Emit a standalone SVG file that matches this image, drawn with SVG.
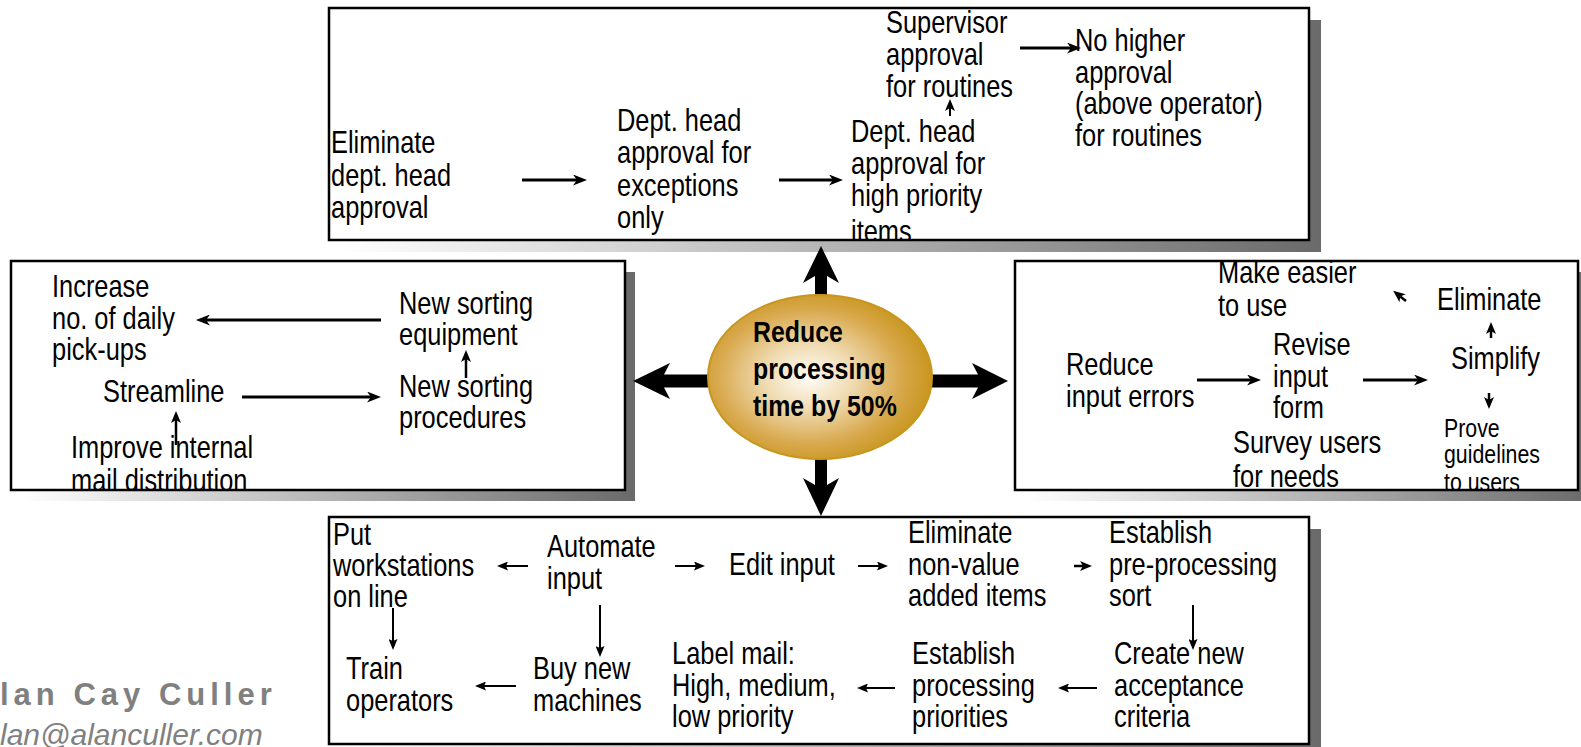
<svg xmlns="http://www.w3.org/2000/svg" width="1581" height="747" viewBox="0 0 1581 747">
<defs>
<linearGradient id="sh" x1="0" y1="0" x2="1" y2="0">
<stop offset="0" stop-color="#ffffff"/>
<stop offset="1" stop-color="#6a6a6a"/>
</linearGradient>
<radialGradient id="gold" cx="0.45" cy="0.5" r="0.55">
<stop offset="0" stop-color="#fffdf8"/>
<stop offset="0.35" stop-color="#f0dcb4"/>
<stop offset="0.75" stop-color="#d8a84c"/>
<stop offset="1" stop-color="#c8961e"/>
</radialGradient>
<clipPath id="cTop"><rect x="329" y="8" width="980" height="232"/></clipPath>
<clipPath id="cLeft"><rect x="11" y="261" width="614" height="229"/></clipPath>
<clipPath id="cRight"><rect x="1015" y="261" width="563" height="229"/></clipPath>
<clipPath id="cBot"><rect x="329" y="517" width="980" height="227"/></clipPath>
<marker id="ah" markerUnits="userSpaceOnUse" viewBox="0 0 14 11" refX="4" refY="5.5" markerWidth="14" markerHeight="11" orient="auto">
<path d="M0,0 L14,5.5 L0,11 L4,5.5 z" fill="#000"/>
</marker>
<marker id="ah2" markerUnits="userSpaceOnUse" viewBox="0 0 11 9" refX="2" refY="4.5" markerWidth="11" markerHeight="9" orient="auto">
<path d="M0,0 L11,4.5 L0,9 L2,4.5 z" fill="#000"/>
</marker>
<marker id="ah3" markerUnits="userSpaceOnUse" viewBox="0 0 12 10" refX="3" refY="5" markerWidth="12" markerHeight="10" orient="auto">
<path d="M0,0 L12,5 L0,10 L3,5 z" fill="#000"/>
</marker>
</defs>
<style>
.t{font-family:'Liberation Sans',Arial,sans-serif;font-size:31px;fill:#000}
.s{font-size:26px}
.c{font-weight:bold;font-size:30px}
.shadow{fill:url(#sh)}
.box{fill:#fff}
.border{fill:none;stroke:#000;stroke-width:2.5}
.a3{stroke:#000;stroke-width:3;fill:none;marker-end:url(#ah)}
.a2{stroke:#000;stroke-width:2;fill:none;marker-end:url(#ah2)}
.a4{stroke:#000;stroke-width:2.5;fill:none;marker-end:url(#ah3)}
.big{fill:#000}
.auth{font-family:'Liberation Sans',Arial,sans-serif;fill:#808080}
</style>
<rect width="1581" height="747" fill="#fff"/>

<g id="top-box">
<rect class="shadow" x="341" y="20" width="980" height="232"/>
<rect class="box" x="329" y="8" width="980" height="232"/>
<g clip-path="url(#cTop)">
<text class="t" transform="matrix(0.82 0 0 1 331 0)"><tspan x="0" y="153">Eliminate</tspan><tspan x="0" y="186">dept. head</tspan><tspan x="0" y="218">approval</tspan></text>
<text class="t" transform="matrix(0.82 0 0 1 617 0)"><tspan x="0" y="131">Dept. head</tspan><tspan x="0" y="163">approval for</tspan><tspan x="0" y="196">exceptions</tspan><tspan x="0" y="228">only</tspan></text>
<text class="t" transform="matrix(0.82 0 0 1 851 0)"><tspan x="0" y="142">Dept. head</tspan><tspan x="0" y="174">approval for</tspan><tspan x="0" y="206">high priority</tspan><tspan x="0" y="242">items</tspan></text>
<text class="t" transform="matrix(0.82 0 0 1 886 0)"><tspan x="0" y="33">Supervisor</tspan><tspan x="0" y="65">approval</tspan><tspan x="0" y="97">for routines</tspan></text>
<text class="t" transform="matrix(0.82 0 0 1 1075 0)"><tspan x="0" y="51">No higher</tspan><tspan x="0" y="83">approval</tspan><tspan x="0" y="114">(above operator)</tspan><tspan x="0" y="146">for routines</tspan></text>
</g>
<rect class="border" x="329" y="8" width="980" height="232"/>
</g>

<g id="left-box">
<rect class="shadow" x="21" y="272" width="614" height="229"/>
<rect class="box" x="11" y="261" width="614" height="229"/>
<g clip-path="url(#cLeft)">
<text class="t" transform="matrix(0.82 0 0 1 52 0)"><tspan x="0" y="297">Increase</tspan><tspan x="0" y="329">no. of daily</tspan><tspan x="0" y="360">pick-ups</tspan></text>
<text class="t" transform="matrix(0.82 0 0 1 399 0)"><tspan x="0" y="314">New sorting</tspan><tspan x="0" y="345">equipment</tspan></text>
<text class="t" transform="matrix(0.82 0 0 1 103 0)" x="0" y="402">Streamline</text>
<text class="t" transform="matrix(0.82 0 0 1 399 0)"><tspan x="0" y="397">New sorting</tspan><tspan x="0" y="428">procedures</tspan></text>
<text class="t" transform="matrix(0.82 0 0 1 71 0)"><tspan x="0" y="458">Improve internal</tspan><tspan x="0" y="491">mail distribution</tspan></text>
</g>
<rect class="border" x="11" y="261" width="614" height="229"/>
</g>

<g id="right-box">
<rect class="shadow" x="1026" y="272" width="563" height="229"/>
<rect class="box" x="1015" y="261" width="563" height="229"/>
<g clip-path="url(#cRight)">
<text class="t" transform="matrix(0.82 0 0 1 1218 0)"><tspan x="0" y="283">Make easier</tspan><tspan x="0" y="316">to use</tspan></text>
<text class="t" transform="matrix(0.82 0 0 1 1437 0)" x="0" y="310">Eliminate</text>
<text class="t" transform="matrix(0.82 0 0 1 1451 0)" x="0" y="369">Simplify</text>
<text class="t" transform="matrix(0.82 0 0 1 1066 0)"><tspan x="0" y="375">Reduce</tspan><tspan x="0" y="407">input errors</tspan></text>
<text class="t" transform="matrix(0.82 0 0 1 1273 0)"><tspan x="0" y="355">Revise</tspan><tspan x="0" y="387">input</tspan><tspan x="0" y="418">form</tspan></text>
<text class="t" transform="matrix(0.82 0 0 1 1233 0)"><tspan x="0" y="453">Survey users</tspan><tspan x="0" y="487">for needs</tspan></text>
<text class="t s" transform="matrix(0.82 0 0 1 1444 0)"><tspan x="0" y="437">Prove</tspan><tspan x="0" y="463">guidelines</tspan><tspan x="0" y="491">to users</tspan></text>
</g>
<rect class="border" x="1015" y="261" width="563" height="229"/>
</g>

<g id="bottom-box">
<rect class="shadow" x="341" y="529" width="980" height="227"/>
<rect class="box" x="329" y="517" width="980" height="227"/>
<g clip-path="url(#cBot)">
<text class="t" transform="matrix(0.82 0 0 1 333 0)"><tspan x="0" y="545">Put</tspan><tspan x="0" y="576">workstations</tspan><tspan x="0" y="607">on line</tspan></text>
<text class="t" transform="matrix(0.82 0 0 1 547 0)"><tspan x="0" y="557">Automate</tspan><tspan x="0" y="589">input</tspan></text>
<text class="t" transform="matrix(0.82 0 0 1 729 0)" x="0" y="575">Edit input</text>
<text class="t" transform="matrix(0.82 0 0 1 908 0)"><tspan x="0" y="543">Eliminate</tspan><tspan x="0" y="575">non-value</tspan><tspan x="0" y="606">added items</tspan></text>
<text class="t" transform="matrix(0.82 0 0 1 1109 0)"><tspan x="0" y="543">Establish</tspan><tspan x="0" y="575">pre-processing</tspan><tspan x="0" y="606">sort</tspan></text>
<text class="t" transform="matrix(0.82 0 0 1 346 0)"><tspan x="0" y="679">Train</tspan><tspan x="0" y="711">operators</tspan></text>
<text class="t" transform="matrix(0.82 0 0 1 533 0)"><tspan x="0" y="679">Buy new</tspan><tspan x="0" y="711">machines</tspan></text>
<text class="t" transform="matrix(0.82 0 0 1 672 0)"><tspan x="0" y="664">Label mail:</tspan><tspan x="0" y="696">High, medium,</tspan><tspan x="0" y="727">low priority</tspan></text>
<text class="t" transform="matrix(0.82 0 0 1 912 0)"><tspan x="0" y="664">Establish</tspan><tspan x="0" y="696">processing</tspan><tspan x="0" y="727">priorities</tspan></text>
<text class="t" transform="matrix(0.82 0 0 1 1114 0)"><tspan x="0" y="664">Create new</tspan><tspan x="0" y="696">acceptance</tspan><tspan x="0" y="727">criteria</tspan></text>
</g>
<rect class="border" x="329" y="517" width="980" height="227"/>
</g>

<g id="connectors">
<line class="a3" x1="522" y1="180" x2="577" y2="180"/>
<line class="a3" x1="779" y1="180" x2="833" y2="180"/>
<line class="a3" x1="1020" y1="48" x2="1071" y2="48"/>
<line class="a4" x1="950" y1="116" x2="950" y2="108" style="stroke-width:2"/>
<line class="a3" x1="381" y1="320" x2="206" y2="320"/>
<line class="a3" x1="242" y1="397" x2="371" y2="397"/>
<line class="a4" x1="466" y1="378" x2="466" y2="359"/>
<line class="a4" x1="176" y1="445" x2="176" y2="420"/>
<line class="a3" x1="1197" y1="380" x2="1251" y2="380"/>
<line class="a3" x1="1363" y1="380" x2="1418" y2="380"/>
<line class="a4" x1="1491" y1="338" x2="1491" y2="331"/>
<line class="a4" x1="1489" y1="393" x2="1489" y2="400"/>
<line class="a4" x1="1406" y1="301" x2="1400.2" y2="296.4"/>
<line class="a2" x1="528" y1="566" x2="506" y2="566"/>
<line class="a2" x1="675" y1="566" x2="696" y2="566"/>
<line class="a2" x1="858" y1="566" x2="879" y2="566"/>
<line class="a4" x1="1074" y1="566" x2="1083" y2="566"/>
<line class="a2" x1="393" y1="608" x2="393" y2="641"/>
<line class="a2" x1="600" y1="605" x2="600" y2="648"/>
<line class="a2" x1="1193" y1="605" x2="1193" y2="641"/>
<line class="a2" x1="1097" y1="688" x2="1067" y2="688"/>
<line class="a2" x1="895" y1="688" x2="866" y2="688"/>
<line class="a2" x1="516" y1="686" x2="484" y2="686"/>
<polygon class="big" points="821,246 839,283 827,276 827,330 815,330 815,276 803,283"/>
<polygon class="big" points="821,516 803,478 815,485 815,430 827,430 827,485 839,478"/>
<polygon class="big" points="633,381 670,363 664,374.5 750,374.5 750,387.5 664,387.5 670,399"/>
<polygon class="big" points="1008,381 972,363 978,374.5 890,374.5 890,387.5 978,387.5 972,399"/>
</g>

<g id="goal">
<ellipse cx="820" cy="377" rx="112" ry="82" fill="url(#gold)" stroke="#c8961e" stroke-width="2"/>
<text class="t c" transform="matrix(0.83 0 0 1 753 0)"><tspan x="0" y="342">Reduce</tspan><tspan x="0" y="379">processing</tspan><tspan x="0" y="416">time by 50%</tspan></text>
</g>

<g id="author">
<text class="auth" x="0" y="705" font-size="31" font-weight="bold" letter-spacing="5">lan Cay Culler</text>
<text class="auth" x="0" y="745" font-size="30" font-style="italic">lan@alanculler.com</text>
</g>
</svg>
